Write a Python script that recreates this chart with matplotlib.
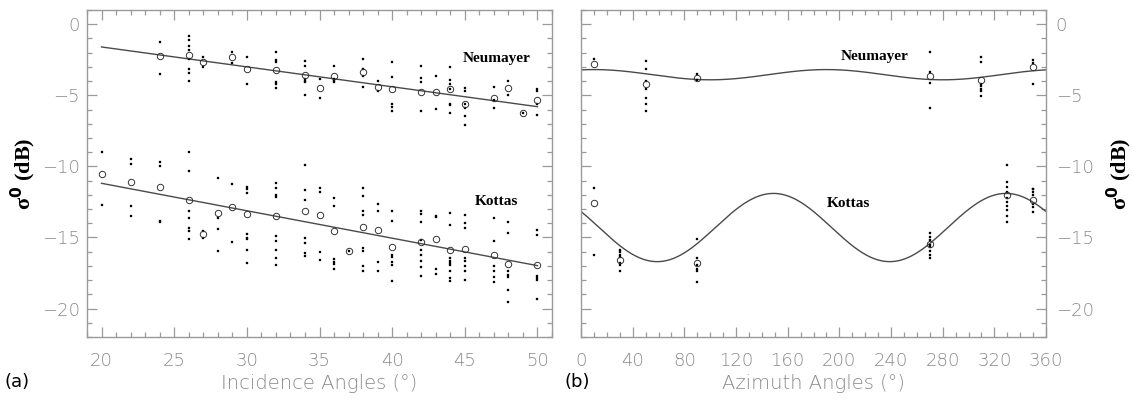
import numpy as np
import matplotlib
matplotlib.use("Agg")
import matplotlib.pyplot as plt
from matplotlib.ticker import MultipleLocator

# ---------------- (a) backscatter vs incidence angle ----------------
inc_angles = [20, 22, 24, 26, 27, 28, 29, 30, 32, 34, 35, 36, 37, 38, 39, 40,
              42, 43, 44, 45, 47, 48, 49, 50]

neu_inc_angles = [24, 26, 27, 29, 30, 32, 34, 35, 36, 38, 39, 40, 42, 43, 44,
                  45, 47, 48, 49, 50]
neu_inc_mean = [-2.23, -2.18, -2.68, -2.32, -3.17, -3.22, -3.54, -4.50, -3.61,
                -3.36, -4.41, -4.58, -4.74, -4.74, -4.53, -5.63, -5.19, -4.46,
                -6.22, -5.35]
neu_inc_obs = [
    [-1.25, -3.47],
    [-0.82, -1.13, -1.50, -1.83, -2.42, -3.12, -3.40, -3.99],
    [-2.32, -3.03],
    [-1.95, -2.72],
    [-2.32, -4.18],
    [-1.92, -2.54, -2.63, -4.08, -4.20, -4.48],
    [-2.60, -2.91, -3.87, -4.00, -4.08, -5.00],
    [-3.87, -5.21],
    [-2.91, -3.87, -3.97, -4.08],
    [-2.42, -3.12, -3.66, -4.39],
    [-4.00, -4.70],
    [-2.63, -3.69, -5.59, -5.82, -6.08],
    [-2.91, -3.76, -4.08, -6.08],
    [-3.66, -5.99],
    [-3.00, -3.92, -4.20, -4.53, -5.59, -5.70, -6.22],
    [-4.48, -4.70, -5.63, -5.87, -6.43, -7.12],
    [-4.39, -5.35, -5.92],
    [-3.97, -5.00],
    [-6.22],
    [-4.53, -4.72, -5.63, -6.41],
]

kot_inc_mean = [-10.52, -11.10, -11.43, -12.35, -14.79, -13.29, -12.84, -13.36,
                -13.47, -13.17, -13.40, -14.51, -15.94, -14.27, -14.48, -15.68,
                -15.30, -15.09, -15.89, -15.80, -16.22, -16.90, None, -16.92]
kot_inc_obs = [
    [-8.99, -12.75],
    [-9.51, -9.81, -12.82, -13.52],
    [-9.69, -9.95, -13.83, -13.94],
    [-8.99, -10.33, -13.12, -13.64, -14.34, -14.55, -15.12],
    [-14.51, -15.05],
    [-10.82, -13.61, -14.41, -15.94],
    [-11.25, -15.33],
    [-11.46, -11.57, -11.85, -14.74, -15.05, -15.14, -15.85, -16.83],
    [-11.15, -11.55, -12.04, -12.16, -14.91, -15.23, -15.85, -16.43, -16.95],
    [-9.93, -11.64, -12.37, -15.02, -15.40, -16.06, -16.32],
    [-11.53, -11.83, -16.03, -16.55],
    [-12.23, -12.80, -16.50, -16.69, -16.88, -17.25],
    [-15.94],
    [-11.53, -12.07, -13.12, -13.45, -15.73, -15.92, -17.02, -17.39],
    [-12.65, -13.12, -16.71, -17.37],
    [-13.12, -13.83, -16.22, -16.39, -16.74, -16.97, -18.07],
    [-13.12, -13.33, -13.92, -15.16, -15.89, -16.22, -16.62, -17.11, -17.68],
    [-13.50, -13.59, -17.25, -17.58],
    [-13.26, -14.11, -16.43, -16.62, -16.78, -16.97, -17.35, -17.82, -18.03],
    [-13.40, -13.97, -14.32, -16.41, -16.67, -16.99, -17.39, -17.98],
    [-13.64, -15.23, -17.02, -17.39, -17.75, -18.10],
    [-13.94, -14.65, -17.37, -17.61, -17.79, -18.71, -19.51],
    [],
    [-14.44, -14.81, -17.70, -17.84, -18.01, -19.32],
]

# linear regression lines (dB = intercept + slope * angle), valid 20-50 deg
neu_inc_fit = (1.20, -0.140)
kot_inc_fit = (-7.33, -0.193)
inc_fit_range = [20, 50]

# ---------------- (b) backscatter vs azimuth angle ----------------
neu_az_angles = [10, 50, 90, 270, 310, 350]
neu_az_mean = [-2.77, -4.23, -3.78, -3.66, -3.94, -3.00]
neu_az_obs = [
    [-2.42],
    [-2.60, -3.17, -4.01, -4.58, -5.21, -5.63, -6.13],
    [-3.47, -3.90],
    [-1.95, -3.38, -4.11, -5.89],
    [-2.30, -2.65, -4.18, -4.37, -4.53, -4.72, -5.05],
    [-2.54, -2.75, -4.18],
]

kot_az_angles = [10, 30, 90, 270, 330, 350]
kot_az_mean = [-12.60, -16.57, -16.81, -15.45, -12.02, -12.35]
kot_az_obs = [
    [-11.50, -16.25],
    [-15.85, -16.03, -16.20, -16.39, -16.76, -16.97, -17.39],
    [-15.14, -16.43, -16.97, -17.20, -17.37, -18.10],
    [-14.70, -14.95, -15.20, -15.50, -15.70, -15.95, -16.20, -16.43],
    [-9.93, -11.10, -11.45, -11.80, -12.20, -12.50, -12.80, -13.10, -13.50, -13.90],
    [-11.57, -11.62, -11.81, -12.00, -12.63, -12.87, -13.22],
]

# second-harmonic azimuth model: mean + amp * cos(2 * (phi - phase))
neu_az_model = (-3.55, 0.36, 10.0)
kot_az_model = (-14.30, 2.40, 149.0)

# ---------------- styling ----------------
W, H = 1132, 400
fig = plt.figure(figsize=(W / 100, H / 100), dpi=100)

spine_col = "#9a9a9a"
tick_col = "#8a8a8a"
line_col = "#4a4a4a"
tick_font = dict(family="DejaVu Sans", weight="light", size=13, color=tick_col)
ylab_font = dict(family=["Liberation Serif", "DejaVu Serif"], weight="bold", size=16)
site_font = dict(family=["Liberation Serif", "DejaVu Serif"], weight="bold", size=11)
xlab_font = dict(fontfamily="DejaVu Sans", fontweight="light", fontsize=14,
                 color=tick_col)

ax_a = fig.add_axes([87 / W, 63 / H, 465 / W, 327 / H])
ax_b = fig.add_axes([581 / W, 63 / H, 465 / W, 327 / H])


def style_axes(ax, xmaj, xmin, right_labels=False):
    for s in ax.spines.values():
        s.set_color(spine_col)
        s.set_linewidth(1.0)
    ax.xaxis.set_major_locator(MultipleLocator(xmaj))
    ax.xaxis.set_minor_locator(MultipleLocator(xmin))
    ax.yaxis.set_major_locator(MultipleLocator(5))
    ax.yaxis.set_minor_locator(MultipleLocator(1))
    ax.tick_params(which="both", direction="in", top=True, right=True,
                   color=spine_col, width=0.9)
    ax.tick_params(which="major", length=7)
    ax.tick_params(which="minor", length=3.5)
    ax.tick_params(axis="x", which="major", pad=11)
    if right_labels:
        ax.tick_params(axis="y", labelleft=False, labelright=True, pad=7)
    else:
        ax.tick_params(axis="y", pad=5)
    for lab in ax.get_xticklabels() + ax.get_yticklabels():
        lab.set_fontfamily(tick_font["family"])
        lab.set_fontweight(tick_font["weight"])
        lab.set_fontsize(tick_font["size"])
        lab.set_color(tick_font["color"])
    ax.set_ylim(-22, 1)


def draw_obs(ax, xs, groups):
    for x, vals in zip(xs, groups):
        if vals:
            ax.plot([x] * len(vals), vals, ls="none", marker="s", ms=1.7,
                    mfc="black", mec="black", mew=0.2, zorder=3)


def draw_mean(ax, xs, vals):
    pts = [(x, v) for x, v in zip(xs, vals) if v is not None]
    ax.plot([p[0] for p in pts], [p[1] for p in pts], ls="none", marker="o",
            ms=4.6, mfc="none", mec="#333333", mew=0.7, zorder=4)


# ---- panel (a)
xa = np.array(inc_fit_range, dtype=float)
for b0, b1 in (neu_inc_fit, kot_inc_fit):
    ax_a.plot(xa, b0 + b1 * xa, color=line_col, lw=1.0, zorder=2)
draw_obs(ax_a, neu_inc_angles, neu_inc_obs)
draw_mean(ax_a, neu_inc_angles, neu_inc_mean)
draw_obs(ax_a, inc_angles, kot_inc_obs)
draw_mean(ax_a, inc_angles, kot_inc_mean)
ax_a.set_xlim(19, 51)
style_axes(ax_a, 5, 1)
ax_a.text(47.2, -2.4, "Neumayer", ha="center", va="center", **site_font)
ax_a.text(47.15, -12.45, "Kottas", ha="center", va="center", **site_font)
ax_a.set_xlabel("Incidence Angles (°)", labelpad=3, **xlab_font)
ax_a.set_ylabel("σ$^\\mathbf{0}$ (dB)", labelpad=3, **ylab_font)

# ---- panel (b)
phi = np.linspace(0, 360, 721)
for a0, a2, p2 in (neu_az_model, kot_az_model):
    ax_b.plot(phi, a0 + a2 * np.cos(np.radians(2 * (phi - p2))),
              color=line_col, lw=1.0, zorder=2)
draw_obs(ax_b, neu_az_angles, neu_az_obs)
draw_mean(ax_b, neu_az_angles, neu_az_mean)
draw_obs(ax_b, kot_az_angles, kot_az_obs)
draw_mean(ax_b, kot_az_angles, kot_az_mean)
ax_b.set_xlim(0, 360)
style_axes(ax_b, 40, 10, right_labels=True)
ax_b.text(227, -2.3, "Neumayer", ha="center", va="center", **site_font)
ax_b.text(207, -12.6, "Kottas", ha="center", va="center", **site_font)
ax_b.set_xlabel("Azimuth Angles (°)", labelpad=3, **xlab_font)
ax_b.yaxis.set_label_position("right")
ax_b.set_ylabel("σ$^\\mathbf{0}$ (dB)", labelpad=8, **ylab_font)

fig.text(4 / W, 1 - 382 / H, "(a)", ha="left", va="center",
         fontfamily="DejaVu Sans", fontsize=13, color="black")
fig.text(565 / W, 1 - 382 / H, "(b)", ha="left", va="center",
         fontfamily="DejaVu Sans", fontsize=13, color="black")

fig.savefig("out.png", dpi=100)
